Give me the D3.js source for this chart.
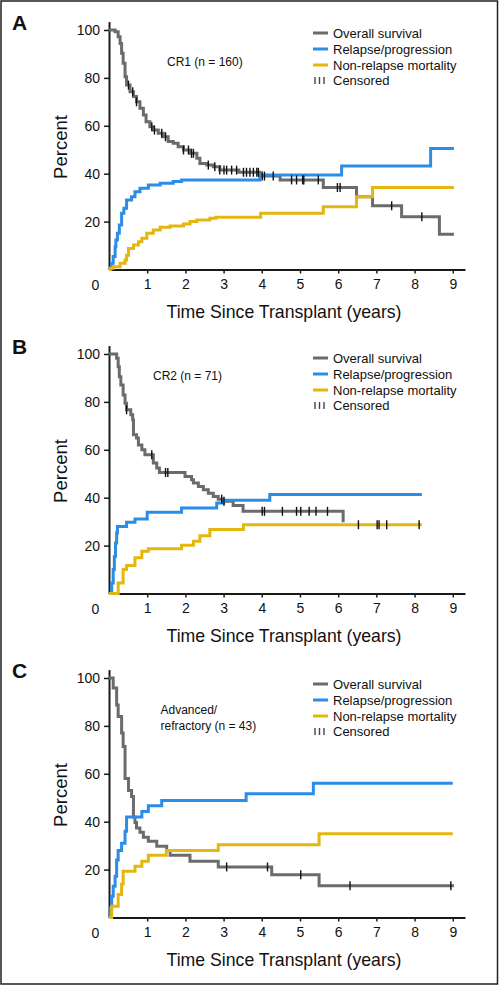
<!DOCTYPE html>
<html><head><meta charset="utf-8">
<script src="https://cdn.jsdelivr.net/npm/d3@7"></script>
<style>
body{margin:0;background:#fff}
svg{display:block}
text{font-family:"Liberation Sans",Arial,Helvetica,sans-serif;fill:#111}
</style>
</head><body><svg id="chart" width="500" height="986"></svg>
<script>
// ---------- DATA ----------
const yearTicks = [1,2,3,4,5,6,7,8,9];
const percentTicks = [20,40,60,80,100];
const seriesNames = ["Overall survival","Relapse/progression","Non-relapse mortality","Censored"];
const panelLetters = ["A","B","C"];
const cohortLabels = [["CR1 (n = 160)"],["CR2 (n = 71)"],["Advanced/","refractory (n = 43)"]];

// Panel A – CR1
const osA = [[0,100],[0.16,99.3],[0.24,97.2],[0.29,94.4],[0.33,90.3],[0.37,86.1],[0.42,80.5],[0.46,77],[0.55,74.2],[0.64,72.2],[0.72,70],[0.81,67.3],[0.9,64.5],[0.97,61.7],[1.07,59.6],[1.16,58.2],[1.29,56.9],[1.42,55.4],[1.55,53.4],[1.68,52.7],[1.81,51.3],[1.95,49.9],[2.12,48.5],[2.3,46.4],[2.38,44.3],[2.56,43.6],[2.73,42.9],[2.9,41.5],[3.4,40.6],[3.95,39],[4.48,37.4],[5.61,34.2],[6.48,30.4],[6.9,26.6],[7.66,22],[8.65,14.7],[9.03,14.7]];
const relA = [[0,0],[0.03,0.5],[0.07,2.6],[0.11,5.4],[0.16,9.5],[0.18,12.3],[0.22,15.1],[0.27,18.6],[0.33,23.5],[0.39,25.6],[0.46,29],[0.59,30.4],[0.68,32.5],[0.81,33.9],[1.03,35.3],[1.34,36],[1.68,36.7],[1.9,37.4],[3.95,39.5],[6.09,43.2],[8.42,50.5],[9.03,50.5]];
const nrmA = [[0,0],[0.03,0.5],[0.11,1.2],[0.29,2.6],[0.42,4],[0.46,6],[0.51,8.8],[0.64,10.2],[0.77,11.6],[0.86,13],[0.99,15.1],[1.16,16.5],[1.34,17.6],[1.6,18.2],[1.95,19],[2.12,20],[2.3,20.7],[2.64,21.4],[2.8,21.8],[3.97,23.5],[5.61,26.2],[6.48,30.4],[6.9,34.2],[9.03,34.2]];
const censOsA = [0.51,0.62,0.72,1.12,1.19,1.38,1.48,1.95,2.08,2.16,2.21,2.6,2.77,2.9,3.01,3.08,3.21,3.34,3.52,3.6,3.69,3.78,3.87,3.91,4.01,4.07,4.3,4.78,4.91,5.07,5.1,5.48,5.98,6.05,7.4,8.19];
const censNrmA = [];

// Panel B – CR2
const osB = [[0,100],[0.2,98.2],[0.24,94.7],[0.27,90.5],[0.31,87],[0.37,82.9],[0.42,79.4],[0.46,76.7],[0.57,74.6],[0.62,72.5],[0.64,66.3],[0.72,64.9],[0.77,62],[0.86,60],[0.94,57.9],[1.16,54.5],[1.25,52.4],[1.32,50.5],[1.99,48.9],[2.16,47.5],[2.21,46.1],[2.34,44.7],[2.47,43.3],[2.6,41.9],[2.73,40.5],[2.86,39.4],[2.99,38.5],[3.25,36.7],[3.51,34.3],[6.13,29.7]];
const relB = [[0,0],[0.07,4.4],[0.11,10],[0.14,15.5],[0.17,21.1],[0.2,25.3],[0.22,28],[0.46,29.7],[0.68,31.1],[1.0,33.9],[1.9,35.7],[2.82,37.8],[3.0,38.9],[4.21,41.3],[8.19,41.3]];
const nrmB = [[0,0],[0.24,4.4],[0.37,10],[0.46,11.7],[0.68,14.9],[0.86,17.6],[1.03,18.7],[1.9,20.1],[2.21,21.8],[2.38,24.1],[2.64,26.7],[3.52,28.7],[8.19,28.7]];
const censOsB = [0.46,1.12,1.48,1.54,2.95,3.01,4.01,4.07,4.54,4.91,5.02,5.24,5.42,5.72];
const censNrmB = [6.53,7.02,7.07,7.27,8.12];

// Panel C – Advanced/refractory
const osC = [[0,100],[0.11,95.8],[0.2,88.7],[0.24,83.9],[0.33,77],[0.37,71.4],[0.42,58],[0.51,53],[0.59,50.5],[0.64,42],[0.68,39.7],[0.72,37.4],[0.81,35.6],[0.9,33.5],[1.03,31.8],[1.25,29.7],[1.51,28],[1.6,26],[2.12,23.5],[2.86,21.1],[4.26,17.9],[5.5,13.3],[9.03,13.3]];
const relC = [[0,0],[0.03,4],[0.07,8.9],[0.11,13],[0.16,17.2],[0.2,24],[0.24,28],[0.33,31],[0.42,36],[0.46,42],[0.86,44.3],[1.03,46.7],[1.38,48.9],[3.59,51.7],[5.35,56.1],[9.0,56.1]];
const nrmC = [[0,0],[0.07,4.7],[0.24,9.6],[0.33,14],[0.37,19.3],[0.68,21.4],[0.86,23.5],[1.03,26],[1.5,28],[2.86,30.4],[5.5,35],[9.0,35]];
const censOsC = [3.08,4.15,5.02,6.31,8.95];
const censNrmC = [];

// ---------- STYLE / LAYOUT ----------
const colors = {os:"#6b6b6b", rel:"#2d8ce6", nrm:"#e3b70f"};
const panelOffsets = [0, 324, 648];
const legendTops = [33, 34, 36];
const panelData = [
  {os:osA, rel:relA, nrm:nrmA, cOs:censOsA, cNrm:censNrmA, labelPos:[[167,66]]},
  {os:osB, rel:relB, nrm:nrmB, cOs:censOsB, cNrm:censNrmB, labelPos:[[153,55.5]]},
  {os:osC, rel:relC, nrm:nrmC, cOs:censOsC, cNrm:censNrmC, labelPos:[[160.5,66],[160.5,82]]}
];

const svg = d3.select("#chart");
svg.append("rect").attr("x",1).attr("y",1).attr("width",496.5).attr("height",983)
  .attr("fill","none").attr("stroke","#222").attr("stroke-width",1.5);

function valAt(series, t){
  let v = series[0][1];
  for (const [tt,vv] of series){ if (tt <= t + 1e-9) v = vv; else break; }
  return v;
}

panelData.forEach((p,i)=>{
  const off = panelOffsets[i];
  const g = svg.append("g");
  const x = d3.scaleLinear().domain([0, 9.32]).range([109, 465]);
  const y = d3.scaleLinear().domain([0, 103.5]).range([269.5+off, 21.6+off]);

  // axes
  const xAxis = g.append("g").attr("transform",`translate(0,${y(0)})`)
    .call(d3.axisBottom(x).tickValues(yearTicks).tickSize(4).tickPadding(6).tickSizeOuter(0).tickFormat(d3.format("d")));
  const yAxis = g.append("g").attr("transform",`translate(${x(0)},0)`)
    .call(d3.axisLeft(y).tickValues(percentTicks).tickSize(5).tickPadding(4).tickSizeOuter(0).tickFormat(d3.format("d")));
  [xAxis,yAxis].forEach(a=>{
    a.select(".domain").attr("stroke","#1a1a1a").attr("stroke-width",2);
    a.selectAll(".tick line").attr("stroke","#1a1a1a").attr("stroke-width",1.5);
    a.selectAll(".tick text").attr("font-size",14).attr("fill","#111")
      .style("font-family",'"Liberation Sans",Arial,sans-serif');
  });
  // corner zero label
  g.append("text").attr("x",95.5).attr("y",y(0)+20).attr("text-anchor","middle")
    .attr("font-size",14).text("0");

  // axis titles
  g.append("text").attr("x",284).attr("y",y(0)+48).attr("text-anchor","middle")
    .attr("font-size",18.5).attr("textLength",235).attr("lengthAdjust","spacingAndGlyphs")
    .text("Time Since Transplant (years)");
  g.append("text").attr("transform",`translate(67,${147+off}) rotate(-90)`)
    .attr("text-anchor","middle").attr("font-size",18.5).text("Percent");

  // panel letter
  g.append("text").attr("x",12).attr("y",30+off).attr("font-size",21)
    .attr("font-weight","bold").attr("fill","#000").text(panelLetters[i]);

  // cohort label
  cohortLabels[i].forEach((txt,k)=>{
    g.append("text").attr("x",p.labelPos[k][0]).attr("y",p.labelPos[k][1]+off)
      .attr("font-size",12).text(txt);
  });

  // curves
  const line = d3.line().x(d=>x(d[0])).y(d=>y(d[1])).curve(d3.curveStepAfter);
  [["os",p.os],["rel",p.rel],["nrm",p.nrm]].forEach(([k,data])=>{
    g.append("path").datum(data).attr("d",line).attr("fill","none")
      .attr("stroke",colors[k]).attr("stroke-width",3).attr("stroke-linejoin","miter");
  });

  // censor marks
  const cens = p.cOs.map(t=>[t,valAt(p.os,t)]).concat(p.cNrm.map(t=>[t,valAt(p.nrm,t)]));
  g.append("g").selectAll("line").data(cens).join("line")
    .attr("x1",d=>x(d[0])).attr("x2",d=>x(d[0]))
    .attr("y1",d=>y(d[1])-4.5).attr("y2",d=>y(d[1])+4.5)
    .attr("stroke","#111").attr("stroke-width",1.4);

  // legend
  const lg = g.append("g");
  const lt = legendTops[i] + off;
  ["os","rel","nrm"].forEach((k,r)=>{
    const cy = lt + r*16;
    lg.append("line").attr("x1",313).attr("x2",328).attr("y1",cy).attr("y2",cy)
      .attr("stroke",colors[k]).attr("stroke-width",3);
    lg.append("text").attr("x",333).attr("y",cy+4.6).attr("font-size",13).text(seriesNames[r]);
  });
  const cy3 = lt + 3*16 - 0.5;
  [315,319.5,324].forEach(xx=>{
    lg.append("line").attr("x1",xx).attr("x2",xx).attr("y1",cy3-3.5).attr("y2",cy3+3.5)
      .attr("stroke","#444").attr("stroke-width",1.4);
  });
  lg.append("text").attr("x",333).attr("y",cy3+4.6).attr("font-size",13).text(seriesNames[3]);
});
</script>
</body></html>
